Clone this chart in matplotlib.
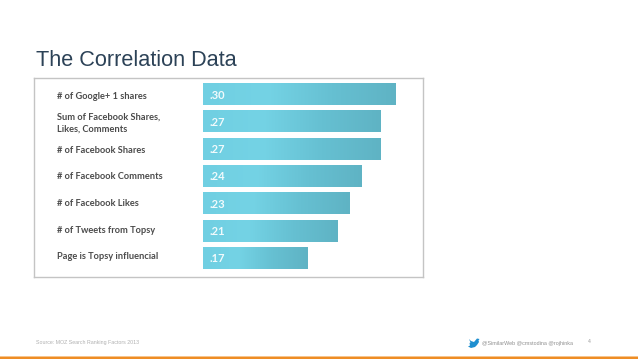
import numpy as np
import matplotlib.pyplot as plt
from matplotlib.colors import LinearSegmentedColormap
from matplotlib.patches import Polygon, Rectangle

W, H = 638, 359

categories = ["# of Google+ 1 shares",
              "Sum of Facebook Shares,\nLikes, Comments",
              "# of Facebook Shares",
              "# of Facebook Comments",
              "# of Facebook Likes",
              "# of Tweets from Topsy",
              "Page is Topsy influencial"]
value_labels = [".30", ".27", ".27", ".24", ".23", ".21", ".17"]
# bar lengths as drawn in the picture, they are not quite proportional to the labels
bar_lengths = [193, 178, 178, 159, 147, 135, 105]

bird_x = [469, 471, 474, 477, 479.5, 478.5, 479, 477, 475, 471, 468, 470, 469.5, 470.5]
bird_y = [339, 341, 342, 338.5, 339, 340.5, 342, 345, 347, 348, 346.5, 345.5, 343, 342.5]

fig = plt.figure(figsize=(W / 100, H / 100), dpi=100)

# whole figure in pixels, for the slide furniture
bg = fig.add_axes([0, 0, 1, 1])
bg.set_xlim(0, W)
bg.set_ylim(H, 0)
bg.axis("off")

bg.text(36, 60, "The Correlation Data", fontsize=15.6, family="Liberation Sans",
        color="#2c4257", va="center", ha="left")
bg.text(36, 342.5, "Source: MOZ Search Ranking Factors 2013", fontsize=3.8,
        family="Liberation Sans", color="#b0b0b0", va="center", ha="left")
bg.text(482, 343.5, "@SimilarWeb @cmstodina @rojhinka", fontsize=3.85,
        family="Liberation Sans", color="#8f8f8f", va="center", ha="left")
bg.text(589, 341.5, "4", fontsize=3.6, family="Liberation Sans", color="#9a9a9a",
        va="center", ha="center")
bg.add_patch(Polygon(list(zip(bird_x, bird_y)), closed=True, color="#1f8fd0", lw=0))
bg.add_patch(Rectangle((0, 356.5), W, 2.5, color="#ee8d25", lw=0))
bg.add_patch(Rectangle((0, 356), W, 0.7, color="#f7c48c", lw=0))

# the chart image with its thin frame
ax = fig.add_axes([33.5 / W, 1 - 277 / H, 389.5 / W, 199 / H])
ax.set_xticks([])
ax.set_yticks([])
for s in ax.spines.values():
    s.set_color("#c4c4c4")
    s.set_linewidth(1)

cmap = LinearSegmentedColormap.from_list("bar", ["#70cfe2", "#74d3e5", "#66c0d2", "#5fb3c4"])
grad = np.linspace(0, 1, 256).reshape(1, -1)
bar_h = 0.794

for i, (cat, lab, length) in enumerate(zip(categories, value_labels, bar_lengths)):
    ax.imshow(grad, extent=(0, length, i + bar_h / 2, i - bar_h / 2), cmap=cmap,
              aspect="auto", interpolation="bilinear", zorder=2)
    ax.text(7, i + 0.03, lab, color="white", fontsize=8, fontweight="bold",
            family="Lato", va="center", ha="left", alpha=0.9, zorder=3)
    # category labels sit on a slightly tighter pitch than the bars
    ax.text(-146, 0.09 + 0.977 * i, cat, color="#4b4b4b",
            fontsize=6.7, fontweight="bold", family="Lato", va="center",
            ha="left", linespacing=1.5)

ax.set_xlim(-169.5, 220)
ax.set_ylim(6.69, -0.593)

fig.savefig("out.png", dpi=100)
